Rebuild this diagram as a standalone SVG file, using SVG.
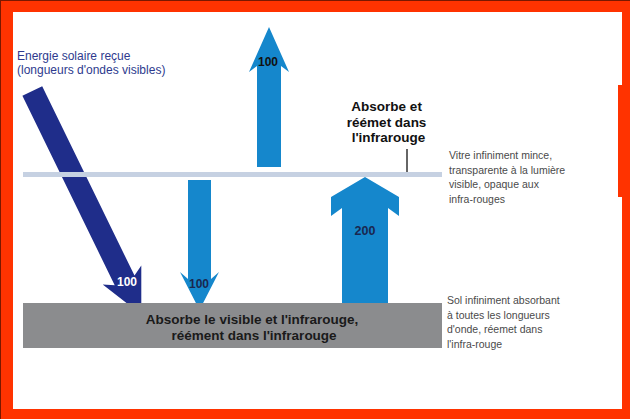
<svg xmlns="http://www.w3.org/2000/svg" width="630" height="419" viewBox="0 0 630 419">
  <style>
    .cap { font-family: "Liberation Sans", Arial, sans-serif; }
    .bold { font-family: "Liberation Sans", Arial, sans-serif; font-weight: bold; }
    .note { font-family: "Liberation Sans", Arial, sans-serif; font-size: 10.5px; fill: #4a4a4a; }
    .lb { fill: #1587CC; }
    .db { fill: #1F2D8A; }
  </style>
  <!-- frame -->
  <rect x="0" y="0" width="630" height="419" fill="#FF3300"/>
  <rect x="0" y="0" width="630" height="1" fill="#7a1800"/>
  <rect x="0" y="0" width="1" height="419" fill="#7a1800"/>
  <rect x="13" y="12" width="609" height="397" fill="#FFFFFF"/>
  <rect x="618" y="85" width="4" height="112" fill="#FF3300"/>

  <g id="connectors">
    <polygon id="arrow-solar" class="db" points="22.4,95.8 42.2,86.2 134.5,275.6 141.3,265.6 141.3,314.6 102.7,284.4 114.7,285.2"/>
    <polygon id="arrow-up-100" class="lb" points="257,167 257,66 249,72 269,27 289,72 281,66 281,167"/>
    <polygon id="arrow-down-100" class="lb" points="188,180 211,180 211,279 219,272 199.5,310 180,272 188,279"/>
    <polygon id="arrow-up-200" class="lb" points="342,303 342,208 331,216 331,197 365,177 399,197 399,216 388,208 388,303"/>
  </g>

  <g id="ground">
    <rect x="23" y="303" width="419" height="45" fill="#8B8C8E"/>
    <text class="bold" font-size="13.5" fill="#1a1a1a" text-anchor="middle">
      <tspan x="254" y="324">Absorbe le visible et l'infrarouge,</tspan>
      <tspan x="254" y="340">réément dans l'infrarouge</tspan>
    </text>
  </g>

  <g id="glass">
    <rect x="23" y="172" width="419" height="5" fill="#C6D1E2"/>
    <line x1="407" y1="149" x2="407" y2="172" stroke="#333" stroke-width="1.5"/>
  </g>

  <g id="labels-arrows">
    <text class="bold" font-size="12" fill="#FFFFFF" text-anchor="middle" x="127" y="286">100</text>
    <text class="bold" font-size="12" fill="#111111" text-anchor="middle" x="268" y="66">100</text>
    <text class="bold" font-size="12" fill="#1a2750" text-anchor="middle" x="199" y="288">100</text>
    <text class="bold" font-size="12.5" fill="#1a2750" text-anchor="middle" x="365" y="235">200</text>
  </g>

  <g id="solar-label">
    <text class="cap" font-size="12" fill="#2E3A8E">
      <tspan x="17" y="60">Energie solaire reçue</tspan>
      <tspan x="17" y="74">(longueurs d'ondes visibles)</tspan>
    </text>
  </g>

  <g id="glass-behaviour">
    <text class="bold" font-size="13.5" fill="#111111" text-anchor="middle">
      <tspan x="388.5" y="111">Absorbe et</tspan>
      <tspan x="388.5" y="127">réémet dans</tspan>
      <tspan x="388.5" y="142">l'infrarouge</tspan>
    </text>
  </g>

  <g id="glass-note">
    <text class="note">
      <tspan x="449" y="159">Vitre infiniment mince,</tspan>
      <tspan x="449" y="174">transparente à la lumière</tspan>
      <tspan x="449" y="188">visible, opaque aux</tspan>
      <tspan x="449" y="203">infra-rouges</tspan>
    </text>
  </g>

  <g id="ground-note">
    <text class="note">
      <tspan x="447" y="304">Sol infiniment absorbant</tspan>
      <tspan x="447" y="319">à toutes les longueurs</tspan>
      <tspan x="447" y="333">d'onde, réemet dans</tspan>
      <tspan x="447" y="348">l'infra-rouge</tspan>
    </text>
  </g>
</svg>
